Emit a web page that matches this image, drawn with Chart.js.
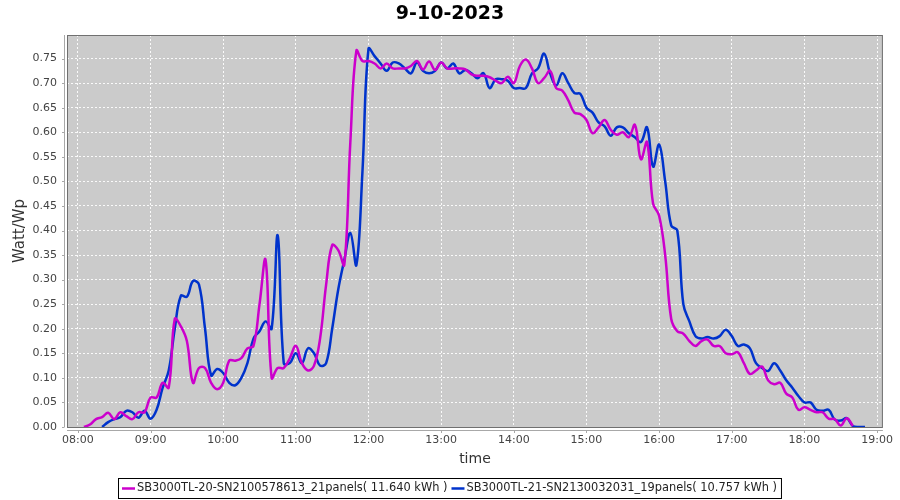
<!DOCTYPE html>
<html>
<head>
<meta charset="utf-8">
<title>9-10-2023</title>
<script src="https://cdn.jsdelivr.net/npm/chart.js@4/dist/chart.umd.min.js"></script>
<style>
  html, body { margin: 0; padding: 0; background: #fff; }
</style>
</head>
<body>
<canvas id="powerChart" width="900" height="500"></canvas>
<script>
const chartTitle = '9-10-2023';
const startTime = '08:00';
const stepMinutes = 5;

const seriesLabels = [
    'SB3000TL-20-SN2100578613_21panels( 11.640 kWh )',
    'SB3000TL-21-SN2130032031_19panels( 10.757 kWh )'
];
const seriesColors = ['#cc00cc', '#0033cc'];

// Watt/Wp every 5 minutes from 08:00 to 19:00
const inverter20 = [
    null, 0.000, 0.005, 0.016, 0.020, 0.029, 0.016, 0.030, 0.022, 0.016, 0.030, 0.030,
    0.060, 0.060, 0.090, 0.080, 0.220, 0.205, 0.175, 0.090, 0.120, 0.120, 0.090, 0.077,
    0.090, 0.135, 0.135, 0.140, 0.160, 0.165, 0.250, 0.340, 0.100, 0.120, 0.120, 0.140,
    0.165, 0.130, 0.115, 0.125, 0.180, 0.290, 0.370, 0.360, 0.330, 0.580, 0.766, 0.745,
    0.745, 0.740, 0.730, 0.740, 0.730, 0.730, 0.730, 0.735, 0.745, 0.728, 0.744, 0.727,
    0.742, 0.730, 0.730, 0.730, 0.728, 0.718, 0.715, 0.715, 0.712, 0.705, 0.700, 0.713,
    0.700, 0.735, 0.748, 0.730, 0.700, 0.710, 0.725, 0.690, 0.685, 0.665, 0.640, 0.637,
    0.625, 0.598, 0.610, 0.625, 0.605, 0.595, 0.600, 0.590, 0.615, 0.545, 0.580, 0.455,
    0.430, 0.350, 0.220, 0.195, 0.190, 0.175, 0.165, 0.175, 0.178, 0.165, 0.165, 0.150,
    0.148, 0.152, 0.130, 0.108, 0.115, 0.123, 0.095, 0.087, 0.090, 0.068, 0.060, 0.035,
    0.040, 0.035, 0.030, 0.030, 0.017, 0.016, 0.003, 0.018, 0.002, null, null, null,
    null
];
const inverter21 = [
    null, null, null, null, 0.000, 0.010, 0.016, 0.020, 0.033, 0.030, 0.019, 0.033,
    0.017, 0.035, 0.080, 0.115, 0.200, 0.267, 0.265, 0.297, 0.290, 0.200, 0.105, 0.118,
    0.110, 0.090, 0.085, 0.100, 0.130, 0.180, 0.195, 0.215, 0.200, 0.390, 0.130, 0.130,
    0.150, 0.130, 0.160, 0.150, 0.125, 0.130, 0.200, 0.280, 0.340, 0.395, 0.330, 0.520,
    0.770, 0.755, 0.740, 0.725, 0.742, 0.740, 0.730, 0.720, 0.742, 0.725, 0.720, 0.725,
    0.742, 0.730, 0.740, 0.720, 0.727, 0.720, 0.710, 0.720, 0.690, 0.708, 0.708, 0.705,
    0.690, 0.690, 0.690, 0.720, 0.730, 0.760, 0.720, 0.695, 0.720, 0.700, 0.680, 0.678,
    0.650, 0.640, 0.620, 0.612, 0.593, 0.610, 0.610, 0.598, 0.590, 0.580, 0.610, 0.530,
    0.575, 0.500, 0.410, 0.400, 0.250, 0.215, 0.185, 0.180, 0.183, 0.180, 0.185, 0.198,
    0.185, 0.165, 0.168, 0.160, 0.130, 0.120, 0.114, 0.130, 0.115, 0.095, 0.080, 0.063,
    0.050, 0.050, 0.035, 0.033, 0.035, 0.015, 0.013, 0.018, 0.002, 0.000, 0.000, null,
    null
];

const hourLabels = ['08:00', '09:00', '10:00', '11:00', '12:00', '13:00',
                    '14:00', '15:00', '16:00', '17:00', '18:00', '19:00'];
const yTicks = [0, 0.05, 0.10, 0.15, 0.20, 0.25, 0.30, 0.35, 0.40, 0.45, 0.50, 0.55, 0.60, 0.65, 0.70, 0.75];

const toHours = t => { const [h, m] = t.split(':').map(Number); return h + m / 60; };
const hourValues = hourLabels.map(toHours);
const t0 = toHours(startTime);
const asPoints = vals => vals.map((v, i) => ({ x: t0 + i * stepMinutes / 60, y: v }));

const font = 'DejaVu Sans';

// grey plot area, frame, offset axis lines, title and boxed legend (JFreeChart look)
const plotFrame = {
    id: 'plotFrame',
    beforeDraw(chart) {
        const { ctx, chartArea: a } = chart;
        ctx.save();
        ctx.fillStyle = '#fff';
        ctx.fillRect(0, 0, chart.width, chart.height);
        ctx.fillStyle = '#cbcbcb';
        ctx.fillRect(a.left, a.top, a.right - a.left, a.bottom - a.top);
        ctx.restore();
    },
    afterDraw(chart) {
        const { ctx, chartArea: a, scales } = chart;
        ctx.save();
        ctx.lineWidth = 1;
        ctx.strokeStyle = '#707070';
        ctx.strokeRect(a.left + 0.5, a.top + 0.5, a.right - a.left - 1, a.bottom - a.top);

        ctx.strokeStyle = '#a8a8a8';
        ctx.beginPath();
        ctx.moveTo(a.left - 2.5, a.top);
        ctx.lineTo(a.left - 2.5, a.bottom);
        yTicks.forEach(v => {
            const y = Math.round(scales.y.getPixelForValue(v)) + 0.5;
            ctx.moveTo(a.left - 5, y);
            ctx.lineTo(a.left - 2.5, y);
        });
        ctx.moveTo(a.left, a.bottom + 3.5);
        ctx.lineTo(a.right, a.bottom + 3.5);
        hourValues.forEach(v => {
            const x = Math.round(scales.x.getPixelForValue(v)) + 0.5;
            ctx.moveTo(x, a.bottom + 3.5);
            ctx.lineTo(x, a.bottom + 6);
        });
        ctx.stroke();

        ctx.fillStyle = '#000';
        ctx.font = 'bold 19px "' + font + '"';
        ctx.textAlign = 'center';
        ctx.textBaseline = 'middle';
        ctx.fillText(chartTitle, chart.width / 2, 14);

        // legend
        ctx.font = '11.4px "' + font + '"';
        const items = chart.data.datasets.map(ds => ({
            label: ds.label, color: ds.borderColor, w: ctx.measureText(ds.label).width
        }));
        const lineLen = 13, gap = 2, itemGap = 4, pad = 4;
        let total = pad * 2 + itemGap * (items.length - 1);
        items.forEach(it => { total += lineLen + gap + it.w; });
        const bx = Math.round(chart.width / 2 - total / 2) - 1, by = 478, bh = 20;
        ctx.strokeStyle = '#000';
        ctx.strokeRect(bx + 0.5, by + 0.5, total, bh);
        let x = bx + pad;
        const cy = by + bh / 2 + 0.5;
        ctx.textAlign = 'left';
        items.forEach(it => {
            ctx.strokeStyle = it.color;
            ctx.lineWidth = 2.5;
            ctx.beginPath();
            ctx.moveTo(x, cy);
            ctx.lineTo(x + lineLen, cy);
            ctx.stroke();
            x += lineLen + gap;
            ctx.fillStyle = '#222';
            ctx.fillText(it.label, x, cy);
            x += it.w + itemGap;
        });
        ctx.restore();
    }
};

new Chart(document.getElementById('powerChart'), {
    type: 'line',
    data: {
        datasets: [
            { label: seriesLabels[0], data: asPoints(inverter20), borderColor: seriesColors[0] },
            { label: seriesLabels[1], data: asPoints(inverter21), borderColor: seriesColors[1] }
        ]
    },
    options: {
        responsive: false,
        animation: false,
        devicePixelRatio: 1,
        layout: { padding: { top: 35, right: 10, bottom: 32, left: 0 } },
        elements: {
            line: { tension: 0.4, borderWidth: 2.5, fill: false },
            point: { radius: 0 }
        },
        plugins: {
            legend: { display: false },
            title: { display: false },
            tooltip: { enabled: false }
        },
        scales: {
            x: {
                type: 'linear',
                min: 7.85,
                max: 19.08,
                afterBuildTicks: s => { s.ticks = hourValues.map(v => ({ value: v })); },
                afterFit: s => { s.height = 41; },
                ticks: {
                    callback: v => hourLabels[hourValues.indexOf(v)],
                    font: { family: font, size: 11 },
                    color: '#444',
                    padding: 7,
                    maxRotation: 0
                },
                grid: { color: 'rgba(255,255,255,0.9)', lineWidth: 1, drawTicks: false },
                border: { display: false, dash: [2, 2] },
                title: {
                    display: true, text: 'time', color: '#333',
                    font: { family: font, size: 14 }, padding: { top: 2, bottom: 0 }
                }
            },
            y: {
                min: 0,
                max: 0.798,
                afterBuildTicks: s => { s.ticks = yTicks.map(v => ({ value: v })); },
                afterFit: s => { s.width = 67; },
                ticks: {
                    callback: v => v.toFixed(2),
                    font: { family: font, size: 11 },
                    color: '#444',
                    padding: 10
                },
                grid: { color: 'rgba(255,255,255,0.9)', lineWidth: 1, drawTicks: false },
                border: { display: false, dash: [2, 2] },
                title: {
                    display: true, text: 'Watt/Wp', color: '#333',
                    font: { family: font, size: 15 }, padding: { top: 11, bottom: 0 }
                }
            }
        }
    },
    plugins: [plotFrame]
});
</script>
</body>
</html>
